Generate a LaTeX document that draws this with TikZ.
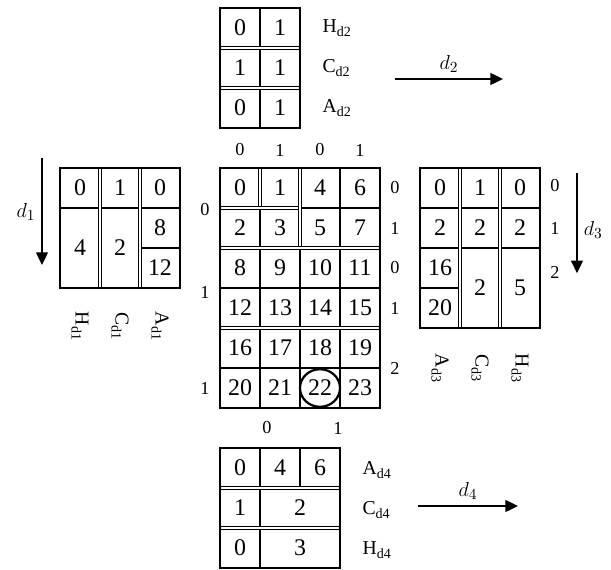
\documentclass[tikz,border=0pt]{standalone}
\usepackage{fontspec}
\setmainfont{Liberation Serif}
\usetikzlibrary{arrows.meta,positioning}

\tikzset{
  dbl/.style={double, double distance=1.2pt, line width=0.9pt},
  num/.style={font=\fontsize{17}{20}\selectfont, inner sep=0pt},
  idx/.style={font=\fontsize{13}{15}\selectfont, inner sep=0pt},
  lab/.style={font=\fontsize{14}{16}\selectfont, inner sep=0pt},
  dlab/.style={font=\fontsize{15}{18}\selectfont},
  dir/.style={-{Triangle[length=9pt,width=8.5pt]}, line width=1pt}
}
\newcommand{\sublab}[2]{#1\raisebox{-0.45ex}{\fontsize{10}{12}\selectfont #2}}

\begin{document}
\begin{tikzpicture}[x=1cm, y=-1cm, line width=0.8pt]
    \useasboundingbox (-5.5,-4.2) rectangle (9.775,10.025);

    % Central grid
    \draw (1,1) -- (1,6);
    \draw (2,2) -- (2,6);
    \draw (3,0) -- (3,6);
    \draw (2,1) -- (4,1);
    \draw (0,3) -- (4,3);
    \draw (0,5) -- (4,5);
    \draw[dbl] (1,0) -- (1,1);
    \draw[dbl] (0,1) -- (2,1);
    \draw[dbl] (2,0) -- (2,2);
    \draw[dbl] (0,2) -- (4,2);
    \draw[dbl] (0,4) -- (4,4);
    \draw (0,0) rectangle (4,6);
    \foreach \n/\x/\y in {0/0/0, 1/1/0, 4/2/0, 6/3/0, 2/0/1, 3/1/1, 5/2/1, 7/3/1} {
      \node[num] (c\n) at (\x+0.5,\y+0.5) {\n};
    }
    \foreach \r in {2,...,5} {
      \foreach \c in {0,...,3} {
        \pgfmathtruncatemacro{\n}{4*\r+\c}
        \node[num] (c\n) at (\c+0.5,\r+0.5) {\n};
      }
    }
    \draw[line width=1.6pt] (c22) circle [x radius=0.5, y radius=0.47];

    % Indices round the grid
    \foreach \i [count=\k] in {0,1,0,1} {
      \node[idx] (top\k) at (\k-0.5,-0.45) {\i};
    }
    \foreach \i/\y [count=\k] in {0/0.5, 1/1.5, 0/2.5, 1/3.5, 2/5.0} {
      \node[idx] (rgt\k) at (4.375,\y) {\i};
    }
    \foreach \i/\y [count=\k] in {0/1.05, 1/3.1, 1/5.5} {
      \node[idx] (lft\k) at (-0.375,\y) {\i};
    }
    \node[idx] (bot1) at (1.175,6.5) {0};
    \node[idx] (bot2) at (2.95,6.5) {1};

    % d2 (top)
    \draw (1,-4) -- (1,-1);
    \draw[dbl] (0,-3) -- (2,-3);
    \draw[dbl] (0,-2) -- (2,-2);
    \draw (0,-4) rectangle (2,-1);
    \foreach \n/\x/\y [count=\k] in {0/0/-4, 1/1/-4, 1/0/-3, 1/1/-3, 0/0/-2, 1/1/-2} {
      \node[num] (tp\k) at (\x+0.5,\y+0.5) {\n};
    }
    \node[lab, anchor=west] (hd2) at (2.55,-3.5) {\sublab{H}{d2}};
    \node[lab, anchor=west] (cd2) at (2.55,-2.5) {\sublab{C}{d2}};
    \node[lab, anchor=west] (ad2) at (2.55,-1.5) {\sublab{A}{d2}};
    \coordinate (d2s) at (4.375,-2.225);
    \coordinate (d2e) at (7.075,-2.225);
    \draw[dir] (d2s) -- node[dlab, above=1pt] {$d_2$} (d2e);

    % d1 (left)
    \draw (-4,1) -- (-1,1);
    \draw (-2,2) -- (-1,2);
    \draw[dbl] (-3,0) -- (-3,3);
    \draw[dbl] (-2,0) -- (-2,3);
    \draw (-4,0) rectangle (-1,3);
    \foreach \n/\x/\y [count=\k] in {0/-3.5/0.5, 4/-3.5/2, 1/-2.5/0.5, 2/-2.5/2, 0/-1.5/0.5, 8/-1.5/1.5, 12/-1.5/2.5} {
      \node[num] (lf\k) at (\x,\y) {\n};
    }
    \node[lab, rotate=-90] (hd1) at (-3.5,3.95) {\sublab{H}{d1}};
    \node[lab, rotate=-90] (cd1) at (-2.5,3.95) {\sublab{C}{d1}};
    \node[lab, rotate=-90] (ad1) at (-1.5,3.95) {\sublab{A}{d1}};
    \coordinate (d1s) at (-4.45,-0.25);
    \coordinate (d1e) at (-4.45,2.425);
    \draw[dir] (d1s) -- node[dlab, left=1pt, pos=0.5] {$d_1$} (d1e);

    % d3 (right)
    \draw (5,1) -- (8,1);
    \draw (5,2) -- (8,2);
    \draw (5,3) -- (6,3);
    \draw[dbl] (6,0) -- (6,4);
    \draw[dbl] (7,0) -- (7,4);
    \draw (5,0) rectangle (8,4);
    \foreach \n/\x/\y [count=\k] in {0/5.5/0.5, 2/5.5/1.5, 16/5.5/2.5, 20/5.5/3.5, 1/6.5/0.5, 2/6.5/1.5, 2/6.5/3, 0/7.5/0.5, 2/7.5/1.5, 5/7.5/3} {
      \node[num] (rt\k) at (\x,\y) {\n};
    }
    \node[lab, rotate=-90] (ad3) at (5.5,5.0) {\sublab{A}{d3}};
    \node[lab, rotate=-90] (cd3) at (6.5,5.0) {\sublab{C}{d3}};
    \node[lab, rotate=-90] (hd3) at (7.5,5.0) {\sublab{H}{d3}};
    \foreach \i/\y [count=\k] in {0/0.43, 1/1.5, 2/2.6} {
      \node[idx] (ix\k) at (8.375,\y) {\i};
    }
    \coordinate (d3s) at (8.925,0.125);
    \coordinate (d3e) at (8.925,2.63);
    \draw[dir] (d3s) -- node[dlab, right=1pt, pos=0.57] {$d_3$} (d3e);

    % d4 (bottom)
    \draw (1,7) -- (1,10);
    \draw (2,7) -- (2,8);
    \draw[dbl] (0,8) -- (3,8);
    \draw[dbl] (0,9) -- (3,9);
    \draw (0,7) rectangle (3,10);
    \foreach \n/\x/\y [count=\k] in {0/0.5/7.5, 4/1.5/7.5, 6/2.5/7.5, 1/0.5/8.5, 2/2/8.5, 0/0.5/9.5, 3/2/9.5} {
      \node[num] (bt\k) at (\x,\y) {\n};
    }
    \node[lab, anchor=west] (ad4) at (3.55,7.55) {\sublab{A}{d4}};
    \node[lab, anchor=west] (cd4) at (3.55,8.55) {\sublab{C}{d4}};
    \node[lab, anchor=west] (hd4) at (3.55,9.55) {\sublab{H}{d4}};
    \coordinate (d4s) at (4.95,8.45);
    \coordinate (d4e) at (7.45,8.45);
    \draw[dir] (d4s) -- node[dlab, above=1pt] {$d_4$} (d4e);
\end{tikzpicture}
\end{document}
